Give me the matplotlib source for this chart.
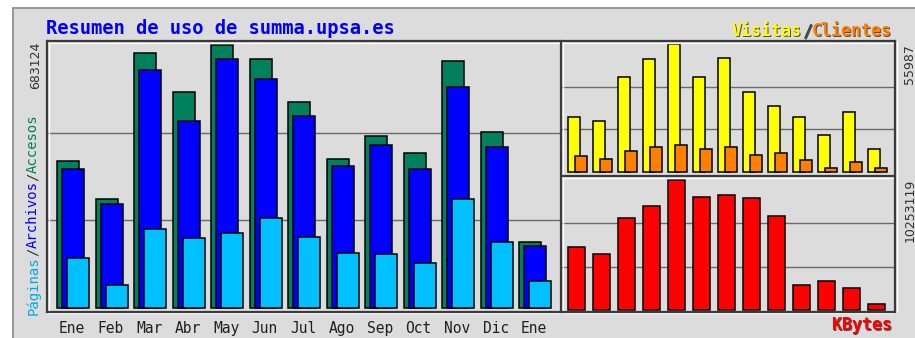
import numpy as np
import matplotlib
matplotlib.use('Agg')
import matplotlib.pyplot as plt
from matplotlib.lines import Line2D
from matplotlib.patches import Rectangle
import matplotlib.transforms as mtransforms

# Monthly usage figures
meses = ['Ene', 'Feb', 'Mar', 'Abr', 'May', 'Jun', 'Jul', 'Ago', 'Sep', 'Oct', 'Nov', 'Dic', 'Ene']
accesos = [382600, 282300, 663100, 561800, 683124, 646000, 534300, 387000, 446700, 403400, 642300, 457100, 172200]
archivos = [360300, 269400, 618200, 485700, 646000, 594800, 498700, 368800, 423400, 360300, 574800, 418200, 161000]
paginas = [130700, 60500, 205200, 181000, 194000, 234500, 184400, 143600, 140300, 116900, 282300, 170600, 70900]
visitas = [24200, 22450, 41700, 49300, 55987, 41700, 49700, 35000, 28900, 24200, 16300, 26400, 10060]
clientes = [7000, 5700, 9050, 10800, 11800, 10200, 10800, 7300, 8450, 5100, 1600, 4370, 1600]
kbytes = [4945000, 4440000, 7280000, 8226000, 10253119, 8936000, 9046000, 8810000, 7390000,
          1995000, 2311000, 1711000, 473000]

W, H = 915, 338
BG = '#dcdcdc'
MONO = 'DejaVu Sans Mono'


def fx(x):
    return x / W


def fy(y):
    return 1 - y / H


def px_axes(x0, y0, x1, y1):
    return [fx(x0), fy(y1), (x1 - x0) / W, (y1 - y0) / H]


fig = plt.figure(figsize=(W / 100, H / 100), dpi=100)
fig.patch.set_facecolor('white')

# grey card behind everything
fig.add_artist(Rectangle((fx(12), 0), 1 - fx(12), fy(7), transform=fig.transFigure,
                         facecolor=BG, edgecolor='none', zorder=0))
fig.add_artist(Line2D([fx(12.5), fx(12.5), 1], [0, fy(7.5), fy(7.5)], transform=fig.transFigure,
                      color='#8a8a8a', lw=1.2, zorder=1))

x = np.arange(len(meses))
edge = dict(edgecolor='black', linewidth=1.1, zorder=3)


def grid3(ax, top):
    for f in (1 / 3, 2 / 3):
        ax.axhline(top * f, color='#6a6a6a', lw=1, zorder=1)


def clean(ax):
    ax.set_facecolor('none')
    for s in ax.spines.values():
        s.set_visible(False)
    ax.set_yticks([])
    ax.tick_params(length=0)


# Accesos / Archivos / Paginas
ax1 = fig.add_axes(px_axes(47, 41, 561, 311))
clean(ax1)
m1 = max(accesos)
k1 = m1 / 263
ax1.set_ylim(-3 * k1, 267 * k1)
ax1.set_xlim(-10 / 38.5, -10 / 38.5 + 514 / 38.5)
grid3(ax1, m1)
bw = 22 / 38.5
off = 5 / 38.5
ax1.bar(x, accesos, width=bw, align='edge', color='#00805c', **edge)
ax1.bar(x + off, archivos, width=bw, align='edge', color='#0000ff', **edge)
ax1.bar(x + 2 * off, paginas, width=bw, align='edge', color='#00c0ff', **edge)
ax1.set_xticks(x + off + bw / 2 - 0.02)
ax1.set_xticklabels(meses, family=MONO, fontsize=10.5, color='#202020')
ax1.tick_params(axis='x', pad=7)

# Visitas / Clientes
ax2 = fig.add_axes(px_axes(561, 41, 895, 176))
clean(ax2)
ax2.set_xticks([])
m2 = max(visitas)
k2 = m2 / 128
ax2.set_ylim(-4 * k2, 131 * k2)
ax2.set_xlim(-6.7 / 25, -6.7 / 25 + 334 / 25)
grid3(ax2, m2)
ax2.bar(x, visitas, width=12.3 / 25, align='edge', color='#ffff00', **edge)
ax2.bar(x + 7.3 / 25, clientes, width=11.7 / 25, align='edge', color='#ff8000', **edge)

# KBytes
ax3 = fig.add_axes(px_axes(561, 176, 895, 311))
clean(ax3)
ax3.set_xticks([])
m3 = max(kbytes)
k3 = m3 / 130
ax3.set_ylim(-1 * k3, 134 * k3)
ax3.set_xlim(-7.3 / 25, -7.3 / 25 + 334 / 25)
grid3(ax3, m3)
ax3.bar(x, kbytes, width=16.7 / 25, align='edge', color='#ff0000', **edge)

# panel frames: dark line with a light highlight
frames = [
    ([47, 895], [41, 41]),
    ([47, 895], [311.5, 311.5]),
    ([47, 47], [41, 311.5]),
    ([895, 895], [41, 311.5]),
    ([561, 561], [41, 311.5]),
    ([561, 895], [176.5, 176.5]),
]
for xs, ys in frames:
    hx = [v + (1.6 if xs[0] == xs[1] else 0) for v in xs]
    hy = [v + (1.6 if ys[0] == ys[1] else 0) for v in ys]
    fig.add_artist(Line2D([fx(v) for v in hx], [fy(v) for v in hy], transform=fig.transFigure,
                          color='white', lw=1, zorder=5))
    fig.add_artist(Line2D([fx(v) for v in xs], [fy(v) for v in ys], transform=fig.transFigure,
                          color='#3a3a3a', lw=1.6, zorder=6))


def shadow_text(xp, yp, s, color, size, **kw):
    sh = mtransforms.offset_copy(fig.transFigure, fig=fig, x=0.8, y=-0.8, units='points')
    fig.text(fx(xp), fy(yp), s, transform=sh, color='#505050', family=MONO, fontsize=size,
             fontweight='bold', zorder=7, **kw)
    fig.text(fx(xp), fy(yp), s, color=color, family=MONO, fontsize=size,
             fontweight='bold', zorder=8, **kw)


# title
fig.text(fx(46), fy(28), 'Resumen de uso de summa.upsa.es', color='#0000ff', family=MONO,
         fontsize=13.5, fontweight='bold', va='center', ha='left')

# maxima along the sides
fig.text(fx(36), fy(42), str(m1), rotation=90, ha='center', va='top', fontsize=9, color='#303030')
fig.text(fx(910), fy(44), str(m2), rotation=90, ha='center', va='top', fontsize=9, color='#303030')
fig.text(fx(910), fy(179), str(m3), rotation=90, ha='center', va='top', fontsize=9, color='#303030')

# vertical legend of the left panel
cw = 0.602 * 10 * 100 / 72
pos = 315
for s, c in [('Páginas', '#00a8e8'), ('/', '#303030'), ('Archivos', '#0000ff'),
             ('/', '#303030'), ('Accesos', '#00805c')]:
    fig.text(fx(33), fy(pos), s, rotation=90, ha='center', va='bottom', family=MONO,
             fontsize=10, color=c)
    pos -= cw * len(s)

# legend of the right panels
cw2 = 0.602 * 12 * 100 / 72
start = 892 - cw2 * 16
for s, c in [('Visitas', '#ffff00'), ('/', '#404040'), ('Clientes', '#ff8000')]:
    shadow_text(start, 31, s, c, 12, va='center', ha='left')
    start += cw2 * len(s)
shadow_text(892, 325, 'KBytes', '#ff0000', 12, va='center', ha='right')

fig.savefig('out.png', dpi=100, facecolor=fig.get_facecolor())
